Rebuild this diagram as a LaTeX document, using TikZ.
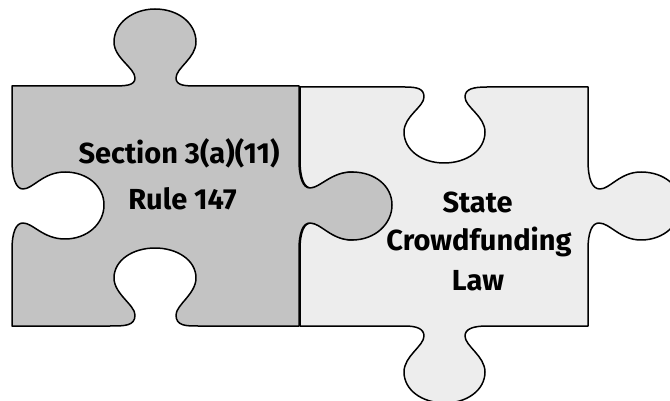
\documentclass[tikz,border=0pt]{standalone}
\usepackage{fontspec}
\setmainfont{Fira Sans}[BoldFont={Fira Sans Bold}]
\tikzset{
  piece/.style={draw=black,line width=1.5pt,line join=round},
  label/.style={font=\fontsize{29}{29}\selectfont\bfseries,text=black,inner sep=0pt,anchor=center}
}
\definecolor{darkpiece}{HTML}{C3C3C3}
\definecolor{lightpiece}{HTML}{EDEDED}
\begin{document}
\begin{tikzpicture}[x=1pt,y=-1pt]
\useasboundingbox (0,0) rectangle (670,401);
\clip (0,0) rectangle (670,401);
% right piece
\path[piece,fill=lightpiece] (300,87) -- (405,87)
 .. controls (418,87) and (424,89) .. (424,97)
 .. controls (424,107) and (404,116) .. (404,132)
 .. controls (404,150) and (422,163) .. (444,163)
 .. controls (467,163) and (485,150) .. (485,132)
 .. controls (485,116) and (465,107) .. (465,97)
 .. controls (465,89) and (473,87) .. (487,87)
 -- (588,87) -- (588,160)
 .. controls (588,179) and (592,189) .. (600,189)
 .. controls (610,189) and (620,172) .. (641,172)
 .. controls (664,172) and (681,186) .. (681,205)
 .. controls (681,224) and (664,240) .. (641,240)
 .. controls (620,240) and (610,223) .. (599,223)
 .. controls (592,223) and (588,232) .. (588,250)
 -- (588,326) -- (487,326)
 .. controls (473,326) and (465,329) .. (465,336)
 .. controls (465,346) and (485,356) .. (485,372)
 .. controls (485,390) and (467,403) .. (445,403)
 .. controls (422,403) and (404,390) .. (404,372)
 .. controls (404,356) and (424,346) .. (424,336)
 .. controls (424,329) and (417,326) .. (405,326)
 -- (300,326) -- (300,250)
 .. controls (300,232) and (304,223) .. (311,223)
 .. controls (322,223) and (332,240) .. (353,240)
 -- (353,172)
 .. controls (332,172) and (320,188) .. (311,188)
 .. controls (304,188) and (300,178) .. (300,160) -- cycle;
% left piece
\path[piece,fill=darkpiece] (12,86) -- (110,86)
 .. controls (125,86) and (135,86) .. (135,78)
 .. controls (135,68) and (114,58) .. (114,42)
 .. controls (114,23) and (133,9) .. (155,9)
 .. controls (178,9) and (196,23) .. (196,42)
 .. controls (196,58) and (176,68) .. (176,78)
 .. controls (176,86) and (186,86) .. (198,86)
 -- (299,86) -- (299,160)
 .. controls (299,178) and (303,188) .. (310,188)
 .. controls (320,188) and (331,172) .. (352,172)
 .. controls (375,172) and (392,186) .. (392,205)
 .. controls (392,224) and (375,240) .. (352,240)
 .. controls (331,240) and (321,223) .. (310,223)
 .. controls (303,223) and (299,232) .. (299,250)
 -- (299,326) -- (198,326)
 .. controls (186,326) and (176,326) .. (176,315)
 .. controls (176,305) and (196,294) .. (196,278)
 .. controls (196,260) and (177,248) .. (155,248)
 .. controls (133,248) and (114,260) .. (114,278)
 .. controls (114,294) and (135,305) .. (135,315)
 .. controls (135,326) and (125,326) .. (110,326)
 -- (12,326) -- (12,250)
 .. controls (12,232) and (16,223) .. (23,223)
 .. controls (33,223) and (43,239) .. (65,239)
 .. controls (87,239) and (104,224) .. (104,205)
 .. controls (104,186) and (87,172) .. (65,172)
 .. controls (43,172) and (33,189) .. (23,189)
 .. controls (16,189) and (12,178) .. (12,160) -- cycle;
\node[label] (sec) at (179,153) {Section 3(a)(11)};
\node[label] (rule) at (182.5,199) {Rule 147};
\node[label] (state) at (477.5,202) {State};
\node[label] (crowd) at (479,242) {Crowdfunding};
\node[label] (law) at (478,281) {Law};
\end{tikzpicture}
\end{document}
